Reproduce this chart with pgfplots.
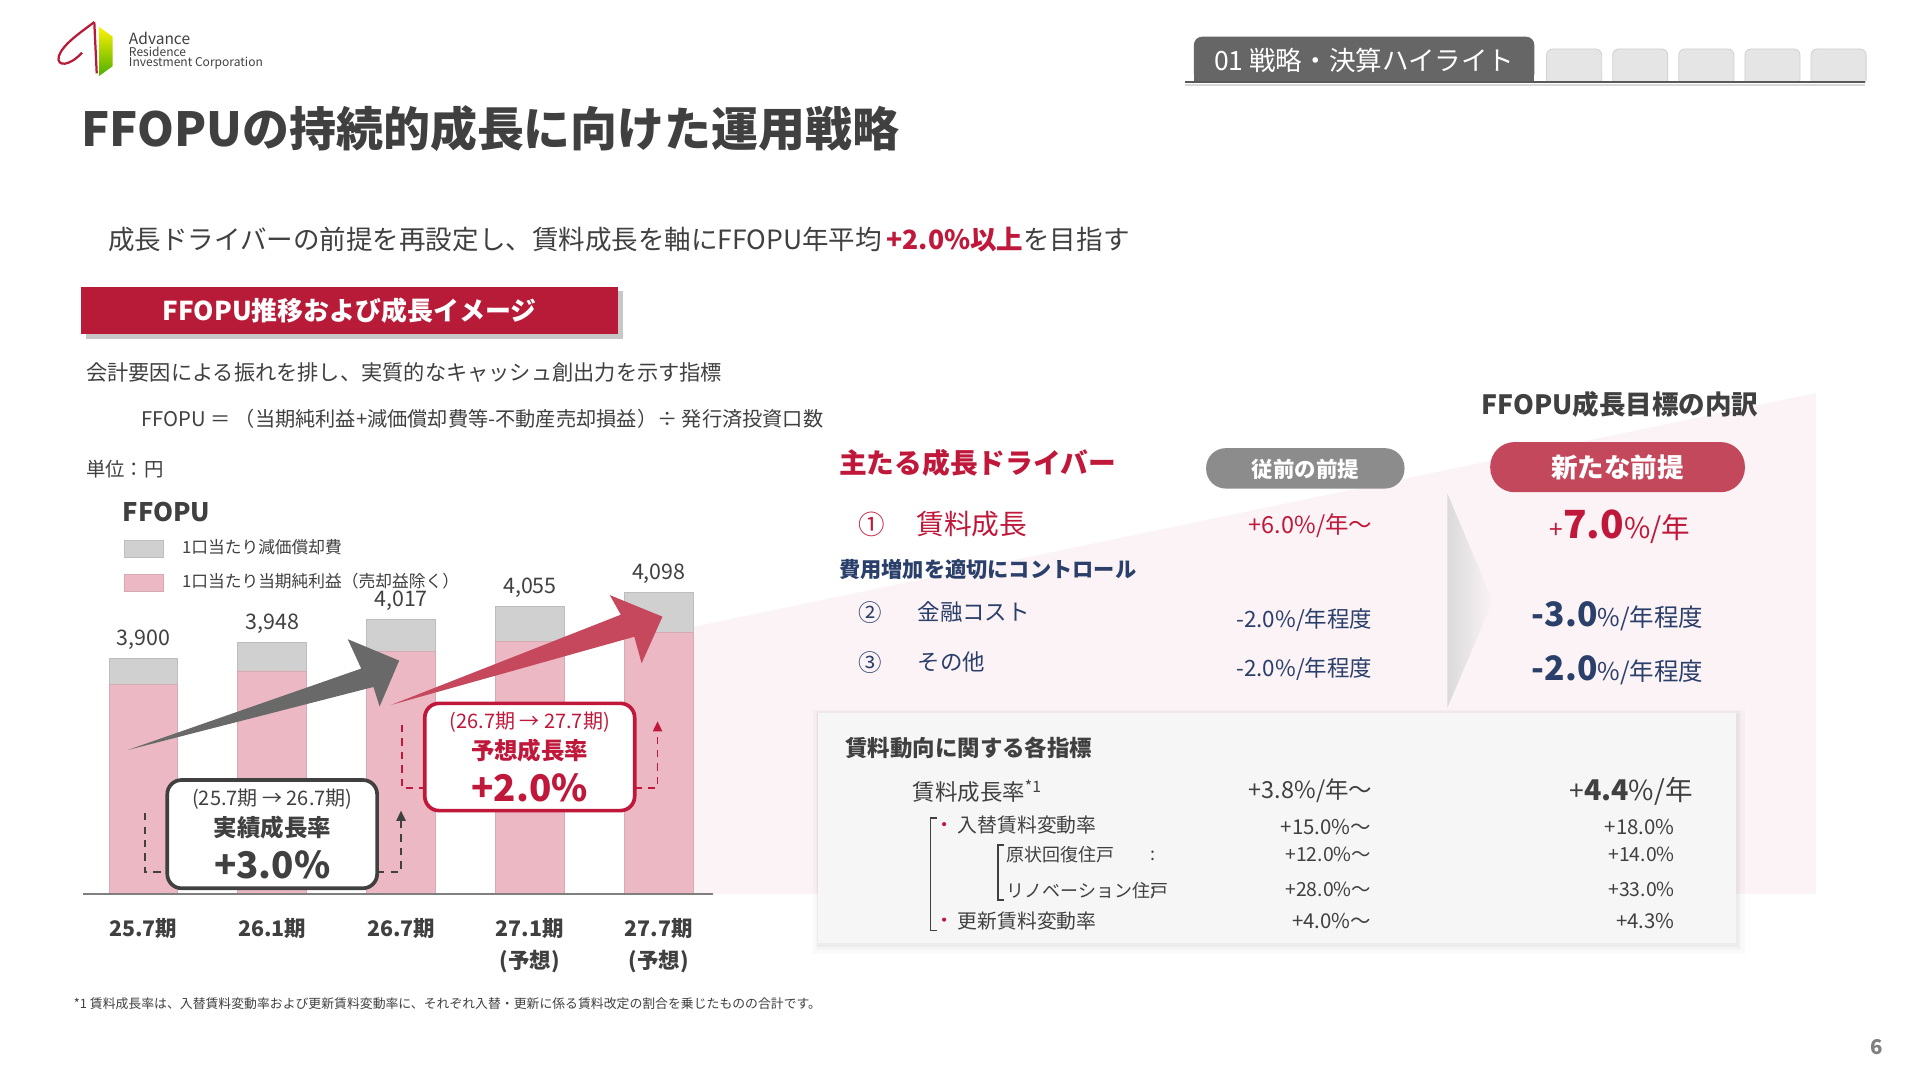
\documentclass[border=0pt]{standalone}
\usepackage{fontspec}
\setmainfont{Noto Sans CJK JP}
\usepackage{pgfplots}
\pgfplotsset{compat=1.18}
\usepackage{pgfplotstable}
\usetikzlibrary{arrows.meta,shadings}

\definecolor{textgray}{HTML}{404040}
\definecolor{myred}{HTML}{C0183A}
\definecolor{bannerred}{HTML}{B71B38}
\definecolor{pillred}{HTML}{C4485C}
\definecolor{arrowred}{HTML}{C5485D}
\definecolor{arrowgray}{HTML}{696969}
\definecolor{pinkbar}{HTML}{EBB8C3}
\definecolor{pinkedge}{HTML}{D6AAB3}
\definecolor{graybar}{HTML}{D0D0D0}
\definecolor{grayedge}{HTML}{BDBDBD}
\definecolor{navy}{HTML}{2B3F6B}
\definecolor{pillgray}{HTML}{8C8C8C}
\definecolor{wedge}{HTML}{FBF3F5}
\definecolor{boxgray}{HTML}{F6F6F6}
\definecolor{axisgray}{HTML}{7F7F7F}
\definecolor{tabgray}{HTML}{666666}
\definecolor{chevgray}{HTML}{DADADA}
\definecolor{logored}{HTML}{B71B38}

\newcommand{\fs}[1]{\fontsize{#1}{#1}\selectfont}

\pgfplotsset{
  sq legend/.style={
    legend image code/.code={\draw[##1] (0pt,-4.2pt) rectangle (19.2pt,4.2pt);}
  }
}

\pgfplotstableread{
x ni dep total
0 3820 80 3900
1 3862 86 3948
2 3922 95 4017
3 3950 105 4055
4 3977 121 4098
}\ffodata

\begin{document}
\begin{tikzpicture}
\begin{scope}[x=0.6pt,y=-0.6pt]
\fill[white] (0,0) rectangle (1568,882);
% background wedge
\fill[wedge] (566,512) -- (1483,321) -- (1483,730) -- (566,730) -- cycle;
% chevron
\shade[left color=chevgray, right color=wedge] (1182,403) -- (1219,491) -- (1182,578) -- cycle;
% grey box with soft shadow
\fill[black,opacity=0.02] (664,580) rectangle (1425,779);
\fill[black,opacity=0.025] (666,581) rectangle (1422,776);
\fill[black,opacity=0.03] (667,582) rectangle (1420,773);
\fill[boxgray] (668,582) rectangle (1418,770);
% header tabs
\fill[tabgray, rounded corners=4pt] (975,30) rectangle (1253,67);
\fill[tabgray] (975,50) rectangle (1253,67);
\foreach \tx in {1263,1317,1371,1425,1479}{
  \draw[draw=black!18, fill=black!10, rounded corners=3pt] (\tx,40) rectangle (\tx+45,70);
}
\fill[white] (960,68) rectangle (1540,75);
\draw[line width=1.3pt, black!65] (968,67) -- (1523,67);
\draw[line width=0.8pt, black!15] (968,69.5) -- (1523,69.5);
\node[white, inner sep=0pt] at (1114,49) {\fs{13}01 戦略・決算ハイライト};
% logo
\shade[top color=yellow!90!orange, bottom color=green!55!black!70!yellow] (81,22) -- (92,30) -- (92,54) -- (81,62) -- cycle;
\draw[logored, line width=1.1pt] (77,18) .. controls (68,25) and (51,36) .. (48,46) .. controls (46,55) and (57,54) .. (67,43);
\draw[logored, line width=1.1pt] (77,18) -- (79,60);
\node[anchor=west, text=textgray, inner sep=0pt] at (105,31.5) {\fs{7.6}Advance};
\node[anchor=west, text=textgray, inner sep=0pt] at (105,42.5) {\fs{5.9}Residence};
\node[anchor=west, text=textgray, inner sep=0pt] at (105,51.5) {\fs{5.9}Investment Corporation};
% title
\node[anchor=west, text=textgray, inner sep=0pt] at (66,105) {\fs{23}\bfseries FFOPUの持続的成長に向けた運用戦略};
\node[anchor=west, text=textgray, inner sep=0pt] at (88,196) {\fs{13}成長ドライバーの前提を再設定し、賃料成長を軸にFFOPU年平均{\color{myred}\bfseries\,+2.0\%以上}を目指す};
% banner
\fill[black, opacity=0.22] (70,238) rectangle (509,277);
\fill[bannerred] (66,234) rectangle (505,273);
\node[white, inner sep=0pt] at (285.5,254) {\fs{12.7}\bfseries FFOPU推移および成長イメージ};
\node[anchor=west, text=textgray, inner sep=0pt] at (70,304) {\fs{10.4}会計要因による振れを排し、実質的なキャッシュ創出力を示す指標};
\node[anchor=west, text=textgray, inner sep=0pt] at (115,342) {\fs{9.9}FFOPU ＝ （当期純利益+減価償却費等-不動産売却損益）÷ 発行済投資口数};
\node[anchor=west, text=textgray, inner sep=0pt] at (70,383) {\fs{9.5}単位：円};
\node[anchor=west, text=textgray, inner sep=0pt] at (100,418) {\fs{12.5}\bfseries FFOPU};
\end{scope}

\begin{axis}[
  at={(40.8pt,-438pt)}, anchor=south west,
  scale only axis, width=308.4pt, height=198pt,
  ybar stacked, bar width=33.6pt,
  xmin=-0.466, xmax=4.418, ymin=3190, ymax=4408,
  enlargelimits=false, clip=true,
  axis x line*=bottom, hide y axis,
  x axis line style={line width=1.2pt, color=axisgray},
  axis on top,
  xtick={0,1,2,3,4},
  xticklabels={25.7期,26.1期,26.7期,{27.1期\\(予想)},{27.7期\\(予想)}},
  xtick style={draw=none}, major tick length=0pt,
  xticklabel style={align=center, text=textgray, font=\fontsize{10.5}{15.6}\selectfont\bfseries, yshift=-8.4pt},
  ytick=\empty,
  reverse legend,
  legend style={at={(rel axis cs:0.0642,0.8758)}, anchor=north west, draw=none, fill=none,
    inner sep=0pt, outer sep=0pt, row sep=7.8pt,
    nodes={inner sep=0pt, text height=6pt, text depth=1.5pt},
    font=\fontsize{8.2}{8.2}\selectfont, text=textgray,
    /tikz/every odd column/.append style={column sep=9pt}},
  legend cell align=left,
]
\addplot[fill=pinkbar, draw=pinkedge, line width=0.4pt, sq legend] table[x=x, y=ni]{\ffodata};
\addlegendentry{1口当たり当期純利益（売却益除く）}
\addplot[fill=graybar, draw=grayedge, line width=0.4pt, sq legend] table[x=x, y=dep]{\ffodata};
\addlegendentry{1口当たり減価償却費}
% total labels above each bar, read from the table
\pgfplotsinvokeforeach{0,...,4}{
  \pgfplotstablegetelem{#1}{total}\of\ffodata
  \edef\temp{\noexpand\node[anchor=base, inner sep=0pt, yshift=6.5pt, text=textgray,
    font=\noexpand\fontsize{10.5}{10.5}\noexpand\selectfont]
    at (axis cs:#1,\pgfplotsretval)
    {\noexpand\pgfmathprintnumber[fixed,precision=0,1000 sep={,},assume math mode=true]{\pgfplotsretval}};}
  \temp
}
\end{axis}

\begin{scope}[x=0.6pt,y=-0.6pt]
% growth arrows
\fill[arrowgray] (104.3,612.5) -- (295,546) -- (284,522) -- (326,539.5) -- (310,577) -- (305,561) -- cycle;
\fill[arrowred] (319.4,575.7) -- (507,502) -- (498,486) -- (541,503.6) -- (524,541.7) -- (518,520) -- cycle;
% dashed connectors
\draw[textgray, line width=0.9pt, dash pattern=on 3.6pt off 3pt] (118.2,664) -- (118.2,712) -- (136.6,712);
\draw[textgray, line width=0.9pt, dash pattern=on 3.6pt off 3pt, -{Triangle[length=5pt,width=4.5pt]}] (308,712) -- (327.5,712) -- (327.5,662);
\draw[myred, line width=0.9pt, dash pattern=on 3.6pt off 3pt] (328.1,592) -- (328.1,643.8) -- (346.9,643.8);
\draw[myred, line width=0.9pt, dash pattern=on 3.6pt off 3pt, -{Triangle[length=5pt,width=4.5pt]}] (518.3,643.8) -- (537,643.8) -- (537,589);
% boxes
\draw[draw=textgray, line width=1.8pt, fill=white, rounded corners=7pt] (136.6,637) rectangle (308,725.4);
\draw[draw=myred, line width=1.8pt, fill=white, rounded corners=7pt] (346.9,574.4) rectangle (518.3,662);
\node[text=textgray, inner sep=0pt] at (222.4,653) {\fs{9.8}(25.7期 → 26.7期)};
\node[text=textgray, inner sep=0pt] at (222.4,676) {\fs{11.5}\bfseries 実績成長率};
\node[text=textgray, inner sep=0pt] at (222.4,706) {\fs{18}\bfseries +3.0\%};
\node[text=myred, inner sep=0pt] at (432.6,590) {\fs{9.8}(26.7期 → 27.7期)};
\node[text=myred, inner sep=0pt] at (432.6,613) {\fs{11.5}\bfseries 予想成長率};
\node[text=myred, inner sep=0pt] at (432.6,643) {\fs{18}\bfseries +2.0\%};

% right panel
\node[text=textgray, inner sep=0pt] at (1323,330) {\fs{13}\bfseries FFOPU成長目標の内訳};
\node[anchor=west, text=myred, inner sep=0pt] at (685,378) {\fs{13.6}\bfseries 主たる成長ドライバー};
\fill[pillgray, rounded corners=9.6pt] (985,366) rectangle (1147,399);
\node[white, inner sep=0pt] at (1066,383) {\fs{10.5}\bfseries 従前の前提};
\fill[pillred, rounded corners=12pt] (1217,361) rectangle (1425,402);
\node[white, inner sep=0pt] at (1321,382) {\fs{13}\bfseries 新たな前提};

\node[text=myred, inner sep=0pt] at (712,428) {\fs{13}①};
\node[anchor=west, text=myred, inner sep=0pt] at (748,428) {\fs{13.6}賃料成長};
\node[anchor=east, text=myred, inner sep=0pt] at (1121,429) {\fs{11.5}+6.0\%/年～};
\node[text=myred, inner sep=0pt] at (1323,430) {{\fs{12}+}{\fs{19}\bfseries 7.0}{\fs{14}\%/年}};

\node[anchor=west, text=navy, inner sep=0pt] at (685,465) {\fs{10.4}\bfseries 費用増加を適切にコントロール};
\node[text=navy, inner sep=0pt] at (711,500) {\fs{11.5}②};
\node[anchor=west, text=navy, inner sep=0pt] at (749,500) {\fs{11}金融コスト};
\node[text=navy, inner sep=0pt] at (711,541) {\fs{11.5}③};
\node[anchor=west, text=navy, inner sep=0pt] at (749,541) {\fs{11}その他};
\node[anchor=east, text=navy, inner sep=0pt] at (1121,506) {\fs{11}-2.0\%/年程度};
\node[anchor=east, text=navy, inner sep=0pt] at (1121,546) {\fs{11}-2.0\%/年程度};
\node[text=navy, inner sep=0pt] at (1321,503) {{\fs{16.5}\bfseries -3.0}{\fs{12}\%/年程度}};
\node[text=navy, inner sep=0pt] at (1321,547) {{\fs{16.5}\bfseries -2.0}{\fs{12}\%/年程度}};

% rent indicators table
\node[anchor=west, text=textgray, inner sep=0pt] at (690,611) {\fs{11}\bfseries 賃料動向に関する各指標};
\node[anchor=west, text=textgray, inner sep=0pt] at (745,646) {\fs{11}賃料成長率\textsuperscript{*1}};
\node[anchor=east, text=textgray, inner sep=0pt] at (1121,646) {\fs{11.5}+3.8\%/年～};
\node[text=textgray, inner sep=0pt] at (1332,646) {{\fs{13}+}{\fs{14}\bfseries 4.4}{\fs{13.5}\%/年}};
\draw[textgray, line width=0.6pt] (765,668) -- (760,668) -- (760,760) -- (765,760);
\fill[myred] (771,673) circle (1.7);
\node[anchor=west, text=textgray, inner sep=0pt] at (782,674) {\fs{9.7}入替賃料変動率};
\node[anchor=east, text=textgray, inner sep=0pt] at (1120,675) {\fs{10}+15.0\%～};
\node[anchor=east, text=textgray, inner sep=0pt] at (1368,675) {\fs{10}+18.0\%};
\draw[textgray, line width=0.6pt] (820,690) -- (815,690) -- (815,735) -- (820,735);
\node[anchor=west, text=textgray, inner sep=0pt] at (822,698) {\fs{8.8}原状回復住戸};
\node[text=textgray, inner sep=0pt] at (942,699) {\fs{8.8}:};
\node[anchor=east, text=textgray, inner sep=0pt] at (1120,698) {\fs{9.5}+12.0\%～};
\node[anchor=east, text=textgray, inner sep=0pt] at (1368,698) {\fs{9.5}+14.0\%};
\node[anchor=west, text=textgray, inner sep=0pt] at (822,727) {\fs{8.8}リノベーション住戸};
\node[text=textgray, inner sep=0pt] at (942,728) {\fs{8.8}:};
\node[anchor=east, text=textgray, inner sep=0pt] at (1120,726) {\fs{9.5}+28.0\%～};
\node[anchor=east, text=textgray, inner sep=0pt] at (1368,726) {\fs{9.5}+33.0\%};
\fill[myred] (771,751) circle (1.7);
\node[anchor=west, text=textgray, inner sep=0pt] at (782,752) {\fs{9.7}更新賃料変動率};
\node[anchor=east, text=textgray, inner sep=0pt] at (1120,752) {\fs{10}+4.0\%～};
\node[anchor=east, text=textgray, inner sep=0pt] at (1368,752) {\fs{10}+4.3\%};

% footnote and page number
\node[anchor=west, text=textgray, inner sep=0pt] at (60,820) {\fs{6.3}*1 賃料成長率は、入替賃料変動率および更新賃料変動率に、それぞれ入替・更新に係る賃料改定の割合を乗じたものの合計です。};
\node[text=axisgray, inner sep=0pt] at (1533,855) {\fs{10}\bfseries 6};
\end{scope}
\pgfresetboundingbox
\path[use as bounding box] (0pt,0pt) rectangle (940.8pt,-529.2pt);
\end{tikzpicture}
\end{document}
